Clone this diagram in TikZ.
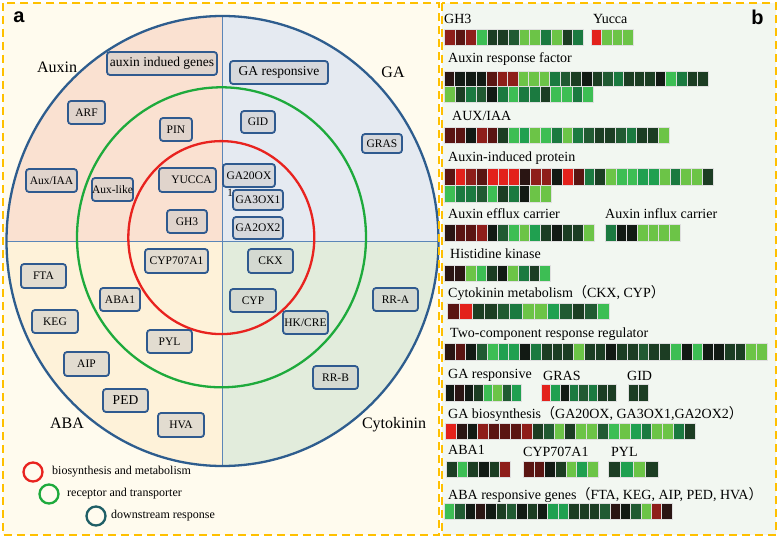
\documentclass[tikz,border=0pt]{standalone}
\usepackage{amsmath}
\usepackage{fontspec}
\setmainfont{Liberation Serif}
\newfontfamily\panelfont{Liberation Sans}
\newfontfamily\cjk{Noto Sans CJK SC}
\usepackage{tikz}
\usetikzlibrary{shapes,arrows,positioning}

\definecolor{dashorange}{HTML}{FFC000}
\definecolor{panelcream}{HTML}{FFFBEE}
\definecolor{panelmint}{HTML}{F2F7F1}
\definecolor{qauxin}{HTML}{FAE1D1}
\definecolor{qga}{HTML}{E5EAF1}
\definecolor{qaba}{HTML}{FEF2D9}
\definecolor{qck}{HTML}{E2ECDC}
\definecolor{ringblue}{HTML}{2E5D8E}
\definecolor{ringgreen}{HTML}{1EAA3C}
\definecolor{ringred}{HTML}{E8231F}
\definecolor{ringteal}{HTML}{1F5F66}
\definecolor{axisblue}{HTML}{5B86B8}
\definecolor{geneblue}{HTML}{2F5A8F}
\definecolor{genegrey}{HTML}{C8C8C8}
% heat map colours
\definecolor{hR}{HTML}{E3221C}
\definecolor{hDR}{HTML}{5A1512}
\definecolor{hMR}{HTML}{8E1E1A}
\definecolor{hBR}{HTML}{2A1513}
\definecolor{hK}{HTML}{121A14}
\definecolor{hD}{HTML}{1C3D23}
\definecolor{hDM}{HTML}{215A32}
\definecolor{hM}{HTML}{1B7A40}
\definecolor{hG}{HTML}{20A050}
\definecolor{hL}{HTML}{3DBE54}
\definecolor{hP}{HTML}{6CC447}

% x, y, cell width, cell height, colours
\newcommand{\heatrow}[5]{%
  \foreach \c [count=\i from 0] in {#5}
    \filldraw[cell, fill=\c] ({#1+\i*#3},#2) rectangle ++(#3,#4);
}

\begin{document}
\begin{tikzpicture}[x=1pt,y=-1pt,
	gene/.style={draw=geneblue, line width=1.8pt, rounded corners=3pt, fill=genegrey,
		fill opacity=0.5, text opacity=1, inner sep=0pt, font=\fontsize{11.5}{12}\selectfont},
	bigtext/.style={font=\fontsize{13.5}{14}\selectfont},
	quadlabel/.style={anchor=base, inner sep=0pt, font=\fontsize{16}{17}\selectfont},
	ring/.style={line width=2.3pt},
	legcirc/.style={circle, line width=2.3pt, minimum size=19pt, inner sep=0pt},
	legtext/.style={anchor=west, inner sep=0pt, font=\fontsize{12}{13}\selectfont},
	panellabel/.style={inner sep=0pt, font=\panelfont\bfseries\fontsize{20}{20}\selectfont},
	heatlabel/.style={anchor=base west, inner sep=0pt, font=\fontsize{14}{15}\selectfont},
	cell/.style={draw=white!75!gray, line width=0.3pt},
	border/.style={draw=dashorange, line width=2pt, dash pattern=on 8pt off 5pt}]
	\useasboundingbox (0,0) rectangle (778,540);

	% panels
	\fill[panelcream] (3,3) rectangle (439,535);
	\fill[panelmint] (442,3) rectangle (776,535);

	% quadrants
	\coordinate (O) at (222.5,241);
	\begin{scope}
		\clip (O) ellipse [x radius=216, y radius=225];
		\fill[qauxin] (O) rectangle (0,0);
		\fill[qga] (O) rectangle (440,0);
		\fill[qaba] (O) rectangle (0,480);
		\fill[qck] (O) rectangle (440,480);
	\end{scope}
	\coordinate (vtop) at (222.5,16);
	\coordinate (vbot) at (222.5,466);
	\coordinate (hleft) at (6.5,241);
	\coordinate (hright) at (438.5,241);
	\draw[axisblue, line width=0.9pt] (vtop) -- (vbot);
	\draw[axisblue, line width=0.9pt] (hleft) -- (hright);

	% rings
	\draw[ring, ringblue] (O) ellipse [x radius=216, y radius=225];
	\draw[ring, ringgreen] (221.5,237.3) ellipse [x radius=144.5, y radius=150];
	\draw[ring, ringred] (221.3,237.6) ellipse [x radius=93, y radius=96.5];

	% quadrant names
	\node[quadlabel] (auxin) at (57,73) {Auxin};
	\node[quadlabel] (ga) at (393,78) {GA};
	\node[quadlabel] (aba) at (67,428) {ABA};
	\node[quadlabel] (cytokinin) at (394,428) {Cytokinin};

	% genes
	\node[gene, bigtext, minimum width=110pt, minimum height=23pt] (auxgenes) at (162,63.5) {auxin indued genes};
	\node[gene, bigtext, minimum width=98pt, minimum height=23pt] (garesp) at (279,72.5) {GA responsive};
	\node[gene, minimum width=37pt, minimum height=23pt] (arf) at (86.5,112.5) {ARF};
	\node[gene, minimum width=32pt, minimum height=23pt] (pin) at (176,129.5) {PIN};
	\node[gene, minimum width=34pt, minimum height=22pt] (gid) at (258,122) {GID};
	\node[gene, minimum width=40pt, minimum height=19pt] (gras) at (382,143.5) {GRAS};
	\node[gene, minimum width=51pt, minimum height=23pt] (auxiaa) at (51.5,180.5) {Aux/IAA};
	\node[gene, minimum width=41pt, minimum height=23pt] (auxlike) at (112.5,189.5) {Aux-like};
	\node[gene, minimum width=57pt, minimum height=24pt] (yucca) at (187.5,180) {\hspace{8pt}YUCCA};
	\node[inner sep=0pt, font=\fontsize{11}{12}\selectfont] (ga20oxtail) at (230,192.5) {1};
	\node[gene, minimum width=52pt, minimum height=23pt] (ga20ox) at (249,175.5) {GA20OX};
	\node[gene, minimum width=50pt, minimum height=20pt] (ga3ox1) at (258,200) {GA3OX1};
	\node[gene, minimum width=50pt, minimum height=22pt] (ga2ox2) at (258,228) {GA2OX2};
	\node[gene, minimum width=40pt, minimum height=23pt] (gh3) at (187,221.5) {GH3};
	\node[gene, minimum width=63pt, minimum height=24pt] (cyp707) at (176.5,261) {CYP707A1};
	\node[gene, minimum width=45pt, minimum height=24pt] (ckx) at (270.5,261) {CKX};
	\node[gene, minimum width=45pt, minimum height=24pt] (fta) at (43.5,276) {FTA};
	\node[gene, minimum width=40pt, minimum height=23pt] (aba1) at (120,299.5) {ABA1};
	\node[gene, minimum width=46pt, minimum height=23pt] (cyp) at (253,300.5) {CYP};
	\node[gene, minimum width=45pt, minimum height=23pt] (rra) at (395.5,299.5) {RR-A};
	\node[gene, minimum width=46pt, minimum height=23pt] (keg) at (55,321.5) {KEG};
	\node[gene, minimum width=45pt, minimum height=23pt] (hkcre) at (305.5,322.5) {HK/CRE};
	\node[gene, minimum width=45pt, minimum height=23pt] (pyl) at (169.5,341.5) {PYL};
	\node[gene, minimum width=45pt, minimum height=24pt] (aip) at (86.5,364) {AIP};
	\node[gene, minimum width=45pt, minimum height=23pt] (rrb) at (335.5,377.5) {RR-B};
	\node[gene, bigtext, minimum width=45pt, minimum height=23pt] (ped) at (125.5,400.5) {PED};
	\node[gene, minimum width=46pt, minimum height=24pt] (hva) at (181,425) {HVA};

	% legend
	\node[legcirc, draw=ringred] (legred) at (33,472) {};
	\node[legcirc, draw=ringgreen] (leggreen) at (49,494) {};
	\node[legcirc, draw=ringteal] (legteal) at (96,516) {};
	\node[legtext] (legredtxt) at (52,472) {biosynthesis and metabolism};
	\node[legtext] (leggreentxt) at (67,494) {receptor and transporter};
	\node[legtext] (legtealtxt) at (111,516) {downstream response};

	\node[panellabel] (labela) at (19,17) {a};

	% heat maps
	\node[heatlabel] (gh3lbl) at (444,24) {GH3};
	\node[heatlabel] (yuccalbl) at (593,24) {Yucca};
	\heatrow{444}{29}{10.7}{16}{hMR,hDR,hMR,hL,hD,hD,hDM,hP,hP,hM,hP,hD,hM}
	\heatrow{591}{29}{10.5}{16}{hR,hP,hP,hP}

	\node[heatlabel] (arflbl) at (448,63) {Auxin response factor};
	\heatrow{444}{71}{10.55}{15.5}{hBR,hK,hK,hK,hDR,hMR,hMR,hP,hP,hP,hM,hDM,hD,hK,hD,hDM,hM,hD,hD,hD,hK,hL,hM,hD,hD}
	\heatrow{444}{86.5}{10.65}{15.5}{hP,hD,hM,hDM,hK,hM,hL,hM,hM,hD,hL,hL,hM,hL}

	\node[heatlabel] (auxiaalbl) at (452,121) {AUX/IAA};
	\heatrow{444}{127}{10.7}{16}{hDR,hDR,hK,hMR,hDR,hD,hL,hG,hP,hL,hM,hP,hM,hDM,hD,hD,hDM,hM,hD,hD,hP}

	\node[heatlabel] (aiplbl) at (448,162) {Auxin-induced protein};
	\heatrow{444}{168}{10.75}{17}{hDR,hR,hMR,hDR,hR,hR,hR,hBR,hMR,hMR,hK,hR,hDR,hM,hD,hP,hL,hL,hG,hG,hP,hM,hP,hP,hD}
	\heatrow{444}{185}{10.7}{17}{hL,hM,hM,hDM,hL,hD,hM,hK,hP,hP}

	\node[heatlabel] (effluxlbl) at (448,218.5) {Auxin efflux carrier};
	\node[heatlabel] (influxlbl) at (605,218) {Auxin influx carrier};
	\heatrow{444}{224}{10.7}{17}{hBR,hDR,hDR,hMR,hK,hDM,hL,hP,hG,hD,hK,hD,hD,hP}
	\heatrow{605}{224}{10.7}{17}{hM,hK,hK,hP,hP,hP,hP}

	\node[heatlabel] (hklbl) at (450,258) {Histidine kinase};
	\heatrow{444}{265}{10.6}{16}{hBR,hBR,hP,hL,hD,hK,hP,hM,hD,hL}

	\node[heatlabel] (cklbl) at (448,297) {Cytokinin metabolism{\cjk （}CKX, CYP{\cjk ）}};
	\heatrow{447}{303}{12.5}{16}{hDR,hR,hD,hD,hDM,hM,hP,hP,hG,hDM,hD,hDM,hL}

	\node[heatlabel] (tclbl) at (450,337) {Two-component response regulator};
	\heatrow{444}{343}{10.77}{17}{hBR,hDR,hK,hDM,hL,hG,hG,hK,hM,hD,hD,hD,hP,hD,hD,hK,hD,hD,hDM,hD,hD,hL,hK,hL,hK,hK,hD,hD,hP,hP}

	\node[heatlabel] (garesplbl) at (448,378) {GA responsive};
	\node[heatlabel] (graslbl) at (543,380) {GRAS};
	\node[heatlabel] (gidlbl) at (627,380) {GID};
	\heatrow{445}{384}{9.5}{17}{hK,hBR,hK,hD,hL,hP,hDM,hG}
	\heatrow{541}{384}{9.4}{17}{hR,hG,hK,hM,hDM,hM,hD,hD}
	\heatrow{628}{384}{10}{17}{hD,hD}

	\node[heatlabel] (gabiolbl) at (448,418) {GA biosynthesis{\cjk （}GA20OX, GA3OX1,GA2OX2{\cjk ）}};
	\heatrow{445}{423}{10.87}{16}{hR,hBR,hK,hMR,hDR,hDR,hDR,hMR,hD,hDM,hP,hD,hP,hP,hDM,hL,hP,hG,hM,hP,hP,hM,hD}

	\node[heatlabel] (aba1lbl) at (448,454) {ABA1};
	\node[heatlabel] (cyp707lbl) at (523,456) {CYP707A1};
	\node[heatlabel] (pyllbl) at (611,456) {PYL};
	\heatrow{446}{461}{10.7}{16}{hD,hL,hD,hK,hD,hMR}
	\heatrow{523}{461}{10.7}{16}{hDR,hDR,hK,hD,hP,hG,hP}
	\heatrow{608}{461}{12.5}{16}{hD,hG,hP,hD}

	\node[heatlabel] (abalbl) at (448,499) {ABA responsive genes{\cjk （}FTA, KEG, AIP, PED, HVA{\cjk ）}};
	\heatrow{444}{503}{10.36}{16}{hL,hDM,hK,hBR,hK,hD,hDM,hK,hD,hK,hG,hG,hD,hD,hD,hDM,hBR,hK,hDM,hP,hMR,hBR}

	\node[panellabel] (labelb) at (757.5,17) {b};

	% dashed frames
	\draw[border] (3,3) rectangle (439,535);
	\draw[border] (442,3) rectangle (776,535);
\end{tikzpicture}
\end{document}
